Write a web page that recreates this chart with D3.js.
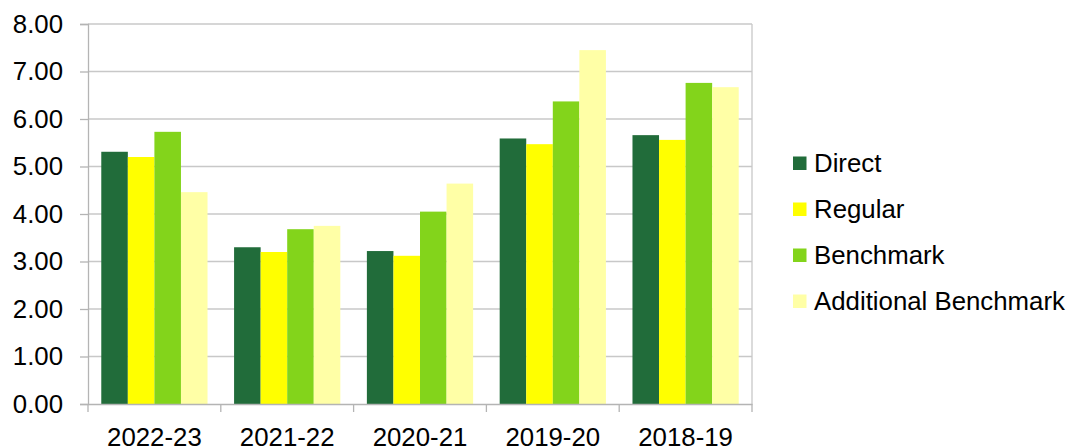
<!DOCTYPE html>
<html><head><meta charset="utf-8">
<script src="https://cdn.jsdelivr.net/npm/d3@7"></script>
<style>body{margin:0;background:#fff}svg{display:block}text{font-family:"Liberation Sans",Arial,sans-serif;fill:#000}</style>
</head><body><svg id="c" width="1074" height="447"></svg>
<script>
const categories = ["2022-23","2021-22","2020-21","2019-20","2018-19"];
const seriesNames = ["Direct","Regular","Benchmark","Additional Benchmark"];
const direct = [5.31,3.30,3.22,5.59,5.66];
const regular = [5.20,3.20,3.12,5.47,5.56];
const benchmark = [5.73,3.68,4.05,6.37,6.76];
const additional = [4.46,3.75,4.64,7.45,6.67];
const yTicks = [0,1,2,3,4,5,6,7,8];
const colors = ["#216c3a","#ffff00","#83d41b","#ffffa6"];
const values = [direct, regular, benchmark, additional];

const FS = "25.8px";
const svg = d3.select("#c");
const L=88, R=752, T=24, B=404;
const x0 = d3.scaleBand().domain(categories).range([L,R]).padding(0);
const x1 = d3.scaleBand().domain(seriesNames).range([x0.bandwidth()*0.1, x0.bandwidth()*0.9]).padding(0);
const y = d3.scaleLinear().domain([0,8]).range([B,T]);

// gridlines
svg.append("g").selectAll("line").data(yTicks.filter(d=>d>0)).join("line")
  .attr("x1",L).attr("x2",R).attr("y1",d=>y(d)).attr("y2",d=>y(d))
  .attr("stroke","#c8c8c8").attr("stroke-width",1.3);
svg.append("line").attr("x1",R).attr("x2",R).attr("y1",T).attr("y2",B).attr("stroke","#c8c8c8").attr("stroke-width",1.3);

// bars
const g = svg.append("g");
seriesNames.forEach((s,i)=>{
  g.append("g").selectAll("rect").data(categories).join("rect")
    .attr("x",c=>x0(c)+x1(s)).attr("width",x1.bandwidth())
    .attr("y",(c,j)=>y(values[i][j])).attr("height",(c,j)=>B-y(values[i][j]))
    .attr("fill",colors[i]);
});

// y axis
const ya = svg.append("g").attr("transform",`translate(${L},0)`)
  .call(d3.axisLeft(y).tickValues(yTicks).tickFormat(d3.format(".2f")).tickSize(8).tickPadding(17));
ya.attr("font-size",null).attr("font-family",null);
ya.select(".domain").attr("stroke","#b4b4b4").attr("stroke-width",1.3);
ya.selectAll(".tick line").attr("stroke","#b4b4b4").attr("stroke-width",1.3);
ya.selectAll("text").style("font-size",FS).attr("fill","#000");

// x axis
const xa = svg.append("g").attr("transform",`translate(0,${B})`)
  .call(d3.axisBottom(x0).tickSize(0).tickPadding(0));
xa.attr("font-size",null).attr("font-family",null);
xa.select(".domain").attr("stroke","#b4b4b4").attr("stroke-width",1.3);
xa.selectAll("text").style("font-size",FS).attr("fill","#000").attr("dy",null).attr("y",41.5);
svg.append("g").selectAll("line").data(categories.map(c=>x0(c)).concat([R])).join("line")
  .attr("x1",d=>d).attr("x2",d=>d).attr("y1",B).attr("y2",B+8).attr("stroke","#b4b4b4").attr("stroke-width",1.3);

// legend
const lg = svg.append("g").attr("transform","translate(793,163)");
seriesNames.forEach((s,i)=>{
  const row = lg.append("g").attr("transform",`translate(0,${i*46})`);
  row.append("rect").attr("x",0).attr("y",-6.5).attr("width",13.5).attr("height",13.5).attr("fill",colors[i]);
  row.append("text").attr("x",21).attr("y",0).attr("dy","0.36em").style("font-size",FS).text(s);
});
</script></body></html>
